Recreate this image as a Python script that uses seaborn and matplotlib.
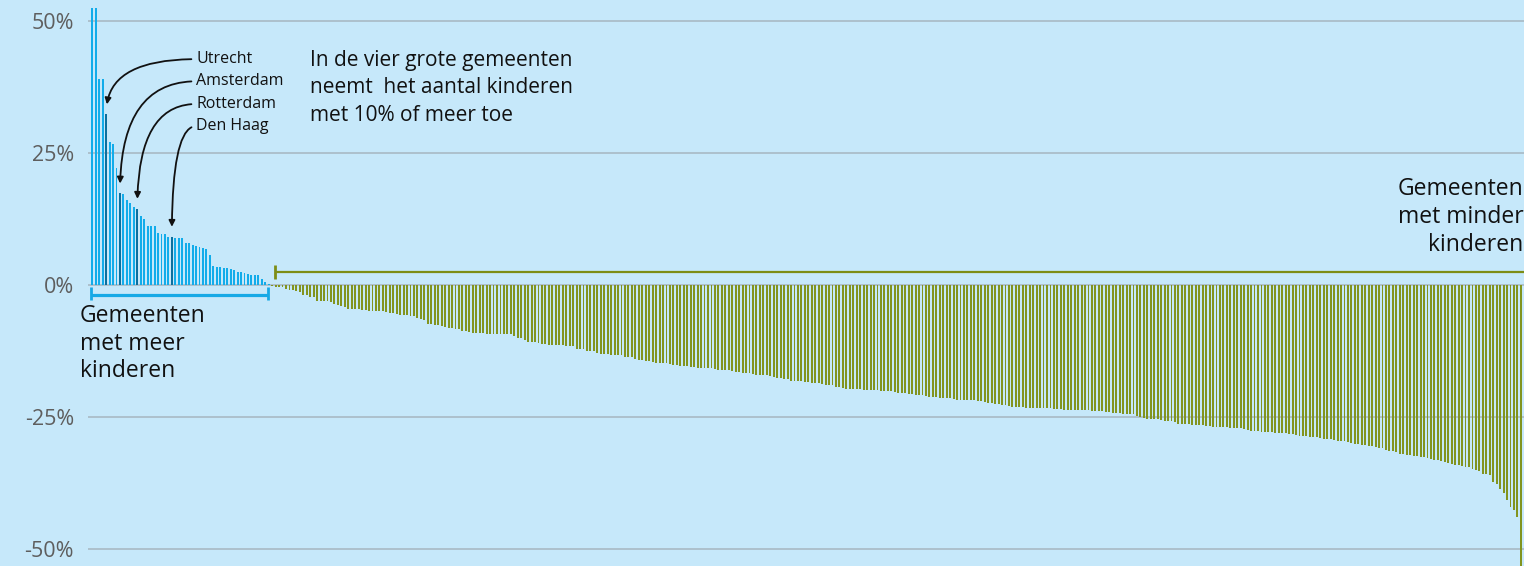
import numpy as np
import pandas as pd
import matplotlib
matplotlib.use('Agg')
import matplotlib.pyplot as plt
import seaborn as sns

# procentuele verandering aantal kinderen per gemeente, gesorteerd
groei = [52.5, 52.5, 39.1, 39.0, 32.4, 27.1, 26.7, 22.1, 17.4, 17.2,
         16.1, 15.5, 14.7, 14.5, 13.1, 12.6, 11.2, 11.2, 11.2, 9.8,
         9.7, 9.7, 9.2, 9.2, 9.0, 9.0, 9.0, 8.0, 7.9, 7.6,
         7.4, 7.3, 7.1, 6.9, 5.7, 3.7, 3.5, 3.4, 3.2, 3.2,
         3.0, 2.8, 2.5, 2.4, 2.2, 2.1, 2.0, 2.0, 1.9, 1.1,
         0.6, 0.2]

krimp = [-0.1, -0.3, -0.3, -0.4, -0.7, -0.9, -1.0, -1.1, -1.3, -1.8,
         -1.9, -2.2, -2.3, -3.0, -3.0, -3.0, -3.0, -3.2, -3.5, -3.8,
         -3.9, -4.2, -4.5, -4.5, -4.5, -4.5, -4.7, -4.7, -4.9, -4.9,
         -4.9, -4.9, -4.9, -5.1, -5.2, -5.2, -5.4, -5.7, -5.7, -5.7,
         -5.8, -5.9, -6.2, -6.4, -6.6, -7.3, -7.4, -7.5, -7.6, -7.8,
         -8.0, -8.1, -8.1, -8.3, -8.3, -8.6, -8.6, -8.8, -9.0, -9.0,
         # 113-173
         -9.0, -9.0, -9.2, -9.2, -9.2, -9.2, -9.2, -9.3, -9.3, -9.3,
         -9.6, -10.1, -10.1, -10.4, -10.8, -10.8, -10.8, -11.0, -11.1, -11.1,
         -11.3, -11.3, -11.3, -11.3, -11.3, -11.6, -11.6, -11.6, -12.1, -12.1,
         -12.1, -12.5, -12.5, -12.5, -12.8, -13.0, -13.0, -13.1, -13.2, -13.2,
         -13.2, -13.3, -13.6, -13.6, -13.7, -14.0, -14.1, -14.2, -14.4, -14.4,
         -14.5, -14.7, -14.8, -14.8, -14.8, -14.9, -15.1, -15.1, -15.3, -15.4,
         -15.4,
         # 174-234
         -15.5, -15.5, -15.7, -15.7, -15.7, -15.7, -15.7, -15.8, -16.1, -16.1,
         -16.1, -16.1, -16.3, -16.5, -16.5, -16.6, -16.7, -16.7, -16.8, -17.0,
         -17.0, -17.0, -17.1, -17.2, -17.4, -17.6, -17.6, -17.7, -17.7, -18.2,
         -18.2, -18.2, -18.2, -18.3, -18.3, -18.5, -18.5, -18.6, -18.7, -18.9,
         -18.9, -18.9, -19.3, -19.3, -19.4, -19.6, -19.7, -19.7, -19.7, -19.7,
         -19.8, -19.9, -19.9, -19.9, -19.9, -20.0, -20.0, -20.0, -20.1, -20.3,
         -20.4,
         # 235-295
         -20.5, -20.5, -20.7, -20.7, -20.9, -20.9, -20.9, -21.0, -21.2, -21.2,
         -21.2, -21.3, -21.4, -21.4, -21.4, -21.5, -21.7, -21.7, -21.7, -21.8,
         -21.8, -21.8, -21.9, -22.0, -22.2, -22.3, -22.4, -22.5, -22.6, -22.8,
         -22.8, -22.9, -23.0, -23.0, -23.0, -23.1, -23.2, -23.2, -23.2, -23.2,
         -23.2, -23.3, -23.3, -23.3, -23.5, -23.5, -23.5, -23.6, -23.6, -23.6,
         -23.7, -23.7, -23.7, -23.7, -23.7, -23.8, -23.8, -23.8, -23.9, -24.1,
         -24.1,
         # 296-355
         -24.2, -24.2, -24.3, -24.4, -24.4, -24.4, -24.4, -24.7, -25.0, -25.1,
         -25.3, -25.4, -25.4, -25.4, -25.6, -25.7, -25.7, -25.8, -26.0, -26.3,
         -26.3, -26.3, -26.3, -26.5, -26.5, -26.5, -26.5, -26.6, -26.6, -26.8,
         -26.8, -26.8, -26.8, -26.9, -27.0, -27.0, -27.1, -27.1, -27.3, -27.4,
         -27.6, -27.7, -27.7, -27.8, -27.8, -27.9, -27.9, -28.0, -28.1, -28.1,
         -28.1, -28.2, -28.2, -28.3, -28.5, -28.6, -28.6, -28.7, -28.7, -28.7,
         # 356-414
         -28.9, -29.1, -29.1, -29.2, -29.4, -29.5, -29.5, -29.6, -29.8, -29.9,
         -30.1, -30.1, -30.2, -30.2, -30.4, -30.4, -30.6, -30.9, -30.9, -31.3,
         -31.4, -31.5, -31.6, -31.9, -32.0, -32.1, -32.1, -32.3, -32.4, -32.5,
         -32.6, -32.7, -32.9, -33.1, -33.2, -33.3, -33.5, -33.7, -33.8, -34.0,
         -34.0, -34.2, -34.4, -34.5, -34.8, -35.0, -35.2, -35.7, -35.8, -36.0,
         -37.3, -37.6, -38.7, -39.3, -40.7, -42.1, -42.6, -43.9, -55.0]

steden = ['Utrecht', 'Amsterdam', 'Rotterdam', 'Den Haag']
steden_pos = [4, 8, 13, 23]
steden_label_y = [42.8, 38.6, 34.3, 30.1]

yticks = [-50, -25, 0, 25, 50]
ytick_labels = ['-50%', '-25%', '0%', '25%', '50%']

waarden = groei + krimp
df = pd.DataFrame({'gemeente': range(len(waarden)), 'verandering': waarden})
df['groep'] = np.where(df['verandering'] > 0, 'meer', 'minder')
df.loc[steden_pos, 'groep'] = 'stad'

kleuren = {'meer': '#12acea', 'stad': '#0b6f9e', 'minder': '#82941f'}
bg = '#c6e8fa'

sns.set_style('white')
plt.rcParams['font.family'] = ['Open Sans', 'DejaVu Sans']

fig = plt.figure(figsize=(15.24, 5.66), dpi=100)
fig.patch.set_facecolor(bg)
ax = fig.add_axes([88 / 1524, 0, 1 - 88 / 1524, 1])
ax.set_facecolor(bg)

sns.barplot(data=df, x='gemeente', y='verandering', hue='groep', palette=kleuren,
            dodge=False, width=0.55, saturation=1, legend=False, linewidth=0,
            ax=ax, zorder=2)

ax.set_xlim(-1.24, 413.9)
ax.set_ylim(-53.2, 54.0)
ax.set_xticks([])
ax.set_yticks(yticks)
ax.set_yticklabels(ytick_labels)
ax.set_xlabel('')
ax.set_ylabel('')
ax.tick_params(axis='y', length=0, pad=10, labelsize=15.5, labelcolor='#5e5e5e')
ax.yaxis.grid(True, color='#a9bac4', lw=1.2)
ax.set_axisbelow(True)
for s in ax.spines.values():
    s.set_visible(False)

# haken onder/boven de groepen
blauw = '#16a9e6'
ax.plot([-0.4, 50.9], [-1.8, -1.8], color=blauw, lw=2.3, solid_capstyle='butt', zorder=3)
for x in [-0.4, 50.9]:
    ax.plot([x, x], [-0.4, -2.9], color=blauw, lw=2.0, solid_capstyle='butt', zorder=3)
olijf = '#7d8d16'
ax.plot([52.9, 420], [2.46, 2.46], color=olijf, lw=1.6, solid_capstyle='butt',
        clip_on=False, zorder=3)
ax.plot([52.9, 52.9], [1.1, 3.8], color=olijf, lw=2.0, solid_capstyle='butt', zorder=3)

# pijlen naar de vier grote steden
for naam, pos, ly in zip(steden, steden_pos, steden_label_y):
    ax.annotate(naam, xy=(pos, waarden[pos]), xytext=(30.0, ly), textcoords='data',
                ha='left', va='center', fontsize=11.5, color='#111111',
                arrowprops=dict(arrowstyle='-|>', color='#111111', lw=1.3,
                                connectionstyle='angle3,angleA=0,angleB=90',
                                relpos=(0, 0.5), shrinkA=1, shrinkB=7,
                                mutation_scale=9))

ax.text(62.9, 44.6, 'In de vier grote gemeenten\nneemt  het aantal kinderen\nmet 10% of meer toe',
        ha='left', va='top', fontsize=15, linespacing=1.42, color='#111111')
ax.text(-3.6, -3.6, 'Gemeenten\nmet meer\nkinderen', ha='left', va='top',
        fontsize=16.5, linespacing=1.2, color='#111111')
ax.text(413.7, 20.4, 'Gemeenten\nmet minder\nkinderen', ha='right', va='top',
        multialignment='right', fontsize=16.5, linespacing=1.2, color='#111111')

fig.savefig('out.png', dpi=100, facecolor=bg)
